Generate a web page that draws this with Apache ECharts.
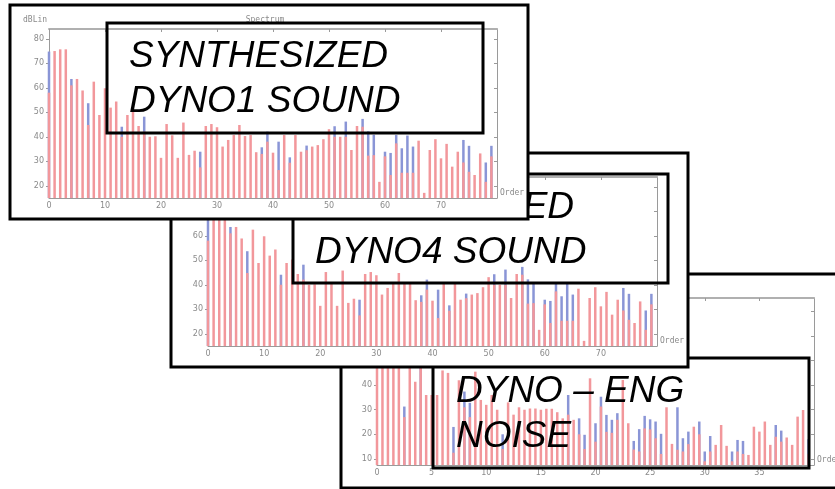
<!DOCTYPE html>
<html><head><meta charset="utf-8">
<script src="https://cdn.jsdelivr.net/npm/echarts@6/dist/echarts.min.js"></script>
<style>html,body{margin:0;padding:0;background:#fff;}#c{width:835px;height:489px;}</style>
</head><body><div id="c"></div>
<script>
// ---------- data ----------
const orders80 = [0,1,2,3,4,5,6,7,8,9,10,11,12,13,14,15,16,17,18,19,20,21,22,23,24,25,26,27,28,29,30,31,32,33,34,35,36,37,38,39,40,41,42,43,44,45,46,47,48,49,50,51,52,53,54,55,56,57,58,59,60,61,62,63,64,65,66,67,68,69,70,71,72,73,74,75,76,77,78,79];
const ordersHalf = [0,0.5,1,1.5,2,2.5,3,3.5,4,4.5,5,5.5,6,6.5,7,7.5,8,8.5,9,9.5,10,10.5,11,11.5,12,12.5,13,13.5,14,14.5,15,15.5,16,16.5,17,17.5,18,18.5,19,19.5,20,20.5,21,21.5,22,22.5,23,23.5,24,24.5,25,25.5,26,26.5,27,27.5,28,28.5,29,29.5,30,30.5,31,31.5,32,32.5,33,33.5,34,34.5,35,35.5,36,36.5,37,37.5,38,38.5,39,39.5];

const dyno1Red = [58,75,75.7,75.7,61,63.6,58.9,44.8,62.5,48.9, 59.8,51.9,54.4,40,48.9,50.3,44.4,42.1,40,40.2, 31.4,45.2,40.6,31.4,45.8,32.6,34.3,27.5,44.4,45.2, 43.9,36,38.7,40.7,44.8,40.3,40.7,33.7,33,38, 33.5,26.4,40.7,29.4,40.7,33.9,34.5,36,36.6,39, 43.1,40,40,40,34.6,44.4,44.1,32.3,32.5,21.6, 32,24.4,37.3,25.3,25.3,25.3,38.4,17.1,34.6,39, 31.2,37.1,27.8,33.9,29.5,25.7,24.4,33.2,21.6,32];
const dyno1Blue = [74.8,null,null,null,63.6,null,null,53.7,null,null, null,null,null,44.1,null,null,null,48.2,null,null, null,null,null,null,null,null,null,33.9,null,null, null,null,null,null,null,null,null,null,35.7,42.1, null,38,null,31.6,null,null,36.4,null,null,null, null,44.3,null,46.2,null,null,47.3,42.2,40.8,null, 33.9,33.4,40.7,35.3,40.5,36,null,null,null,null, null,null,null,null,38.7,36.3,null,null,29.5,36.3];

const dyno4Red = [58,75,75.7,75.7,61,63.6,58.9,44.8,62.5,48.9, 59.8,51.9,54.4,40,48.9,50.3,44.4,42.1,40,40.2, 31.4,45.2,40.6,31.4,45.8,32.6,34.3,27.5,44.4,45.2, 43.9,36,38.7,40.7,44.8,40.3,40.7,33.7,33,38, 33.5,26.4,40.7,29.4,40.7,33.9,34.5,36,36.6,39, 43.1,40,40,40,34.6,44.4,44.1,32.3,32.5,21.6, 32,24.4,37.3,25.3,25.3,25.3,38.4,17.1,34.6,39, 31.2,37.1,27.8,33.9,29.5,25.7,24.4,33.2,21.6,32];
const dyno4Blue = [74.8,null,null,null,63.6,null,null,53.7,null,null, null,null,null,44.1,null,null,null,48.2,null,null, null,null,null,null,null,null,null,33.9,null,null, null,null,null,null,null,null,null,null,35.7,42.1, null,38,null,31.6,null,null,36.4,null,null,null, null,44.3,null,46.2,null,null,47.3,42.2,40.8,null, 33.9,33.4,40.7,35.3,40.5,36,null,null,null,null, null,null,null,null,38.7,36.3,null,null,29.5,36.3];

const engRed = [70,65,68,60,62,27,55,41.4,55,36, 36,36,46,45,12.5,42,31,27,45.5,34, 32,36,30,14,33,28,31,30,30.5,30.5, 30,30.4,30.4,29,26.5,28,25.9,20,14,42.8, 17,31.3,21,20.6,25.9,42.1,24.5,13.8,13,22.4, 22,18.4,12,31,16.1,13.7,13,16,23.1,20, 9,13,15.7,23.8,15.3,9,13,12,11.6,23.1, 21.1,25.2,15.7,19,17,18.7,15.7,27.2,29.9,12];
const engBlue = [null,null,null,null,null,31.3,null,null,60,null, null,null,null,null,23,null,37.4,32.8,null,null, null,null,null,20,null,null,null,null,null,null, null,null,null,null,null,36,null,26.5,19.8,null, 24.5,35.3,27.9,25.9,28.6,null,null,17.3,22.1,27.5, 26.1,25.2,20.2,null,null,31,18.4,21.1,null,25.2, 13,19.3,null,null,null,13,17.7,17.3,null,null, null,null,null,23.8,21.5,null,null,null,null,18];

const yTicksDyno = [20,30,40,50,60,70,80];
const xTicksDyno = [0,10,20,30,40,50,60,70];
const yTicksEng = [10,20,30,40,50,60,70];
const xTicksEng = [0,5,10,15,20,25,30,35];

const titles = [
  ['SYNTHESIZED', 'DYNO1 SOUND'],
  ['SYNTHESIZED', 'DYNO4 SOUND'],
  ['DYNO \u2013 ENG', 'NOISE']
];

// ---------- layout / style ----------
const RED = '#f2979b', BLUE = '#8a95d6', AX = '#9a9a9a', LBL = '#8a8a8a';
const panels = [
  // drawn bottom to top
  { orders: ordersHalf, red: engRed, blue: engBlue, xMin:0, xMax:40, yMin:7.5, yMax:75.5,
    xT: xTicksEng, yT: yTicksEng, title: titles[2],
    frame:[341,274,520,214], grid:[377,298,437,167], box:[433,358,376,110], tx:456 },
  { orders: orders80, red: dyno4Red, blue: dyno4Blue, xMin:0, xMax:80, yMin:15, yMax:84,
    xT: xTicksDyno, yT: yTicksDyno, title: titles[1],
    frame:[171,153,517,214], grid:[208,177,449,169], box:[293,174,375,109], tx:315 },
  { orders: orders80, red: dyno1Red, blue: dyno1Blue, xMin:0, xMax:80, yMin:15, yMax:84,
    xT: xTicksDyno, yT: yTicksDyno, title: titles[0],
    frame:[10,5,518,214], grid:[49,29,448,169], box:[107,23,376,110], tx:129 }
];

const grid = [], xAxis = [], yAxis = [], series = [], graphic = [];
const small = { fontSize: 8, color: LBL, fontFamily: 'DejaVu Sans' };

panels.forEach((p, i) => {
  const zb = 1 + i * 6;
  const [fx, fy, fw, fh] = p.frame;
  const [gl, gt, gw, gh] = p.grid;
  graphic.push({ type:'rect', z: zb, shape:{x:fx, y:fy, width:fw, height:fh},
    style:{ fill:'#fff', stroke:'#000', lineWidth:3 } });
  graphic.push({ type:'text', z: zb + 1, style:{ text:'dBLin', x: gl - 26, y: gt - 9,
    font:'8px "DejaVu Sans Mono"', fill: LBL, textVerticalAlign:'middle' } });
  graphic.push({ type:'text', z: zb + 1, style:{ text:'Spectrum', x: gl + gw/2 - 8, y: gt - 9,
    font:'8px "DejaVu Sans Mono"', fill: LBL, textAlign:'center', textVerticalAlign:'middle' } });
  graphic.push({ type:'text', z: zb + 1, style:{ text:'Order', x: gl + gw + 3, y: gt + gh - 5,
    font:'8px "DejaVu Sans Mono"', fill: LBL, textVerticalAlign:'middle' } });

  grid.push({ left: gl, top: gt, width: gw, height: gh, containLabel: false });
  const common = { gridIndex: i, type: 'value', z: zb + 1, splitLine: { show: false } };
  xAxis.push(Object.assign({}, common, { min: p.xMin, max: p.xMax, position: 'bottom',
    axisLine: { show: true, onZero: false, lineStyle: { color: AX } },
    axisTick: { show: true, inside: true, length: 3, customValues: p.xT, lineStyle: { color: AX } },
    axisLabel: Object.assign({ customValues: p.xT, margin: 4 }, small) }));
  xAxis.push(Object.assign({}, common, { min: p.xMin, max: p.xMax, position: 'top',
    axisLine: { show: true, onZero: false, lineStyle: { color: '#b0b0b0', width: 2 } },
    axisTick: { show: true, inside: true, length: 3, customValues: p.xT, lineStyle: { color: AX } },
    axisLabel: { show: false } }));
  yAxis.push(Object.assign({}, common, { min: p.yMin, max: p.yMax, position: 'left',
    axisLine: { show: true, onZero: false, lineStyle: { color: AX } },
    axisTick: { show: true, inside: false, length: 3, customValues: p.yT, lineStyle: { color: AX } },
    axisLabel: Object.assign({ customValues: p.yT, margin: 5 }, small) }));
  yAxis.push(Object.assign({}, common, { min: p.yMin, max: p.yMax, position: 'right',
    axisLine: { show: true, onZero: false, lineStyle: { color: AX } },
    axisTick: { show: true, inside: true, length: 3, customValues: p.yT, lineStyle: { color: AX } },
    axisLabel: { show: false } }));

  series.push({ type: 'bar', xAxisIndex: 2*i, yAxisIndex: 2*i, z: zb + 2,
    data: p.orders.map((o, j) => [o, p.blue[j] == null ? '-' : p.blue[j]]),
    barWidth: 2.5, barGap: '-100%', itemStyle: { color: BLUE }, silent: true });
  series.push({ type: 'bar', xAxisIndex: 2*i, yAxisIndex: 2*i, z: zb + 3,
    data: p.orders.map((o, j) => [o, p.red[j]]),
    barWidth: 2.5, barGap: '-100%', itemStyle: { color: RED }, silent: true });

  const [bx, by, bw, bh] = p.box;
  graphic.push({ type:'rect', z: zb + 4, shape:{x:bx, y:by, width:bw, height:bh},
    style:{ fill:'none', stroke:'#000', lineWidth:3 } });
  p.title.forEach((t, k) => {
    graphic.push({ type:'text', z: zb + 4, style:{ text: t, x: p.tx, y: by + 34 + 45*k,
      font:'italic 37px "Liberation Sans", Arial, sans-serif', fill:'#000',
      textAlign:'left', textVerticalAlign:'middle' } });
  });
});

const chart = echarts.init(document.getElementById('c'), null, { renderer: 'canvas' });
chart.setOption({ animation: false, backgroundColor: '#fff', grid, xAxis, yAxis, series, graphic });
</script></body></html>
